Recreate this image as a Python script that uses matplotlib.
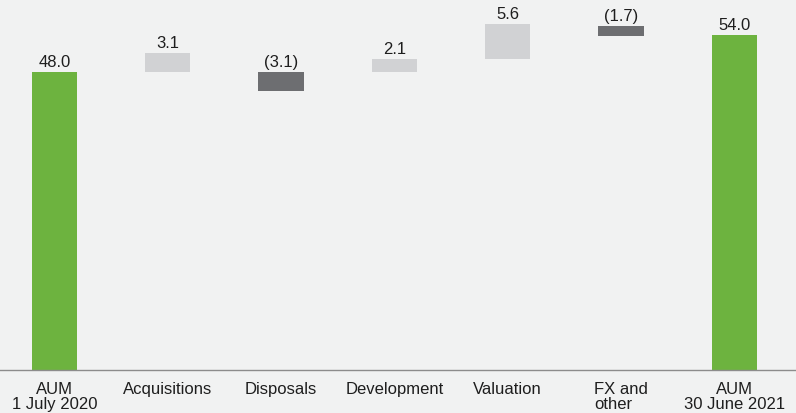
import matplotlib.pyplot as plt

plt.rcParams['font.family'] = ['Liberation Sans', 'DejaVu Sans']

# AUM bridge, GBP bn
categories = ['AUM\n1 July 2020', 'Acquisitions', 'Disposals', 'Development',
              'Valuation', 'FX and\nother', 'AUM\n30 June 2021']
changes = [48.0, 3.1, -3.1, 2.1, 5.6, -1.7, 54.0]
# level each bar is drawn from
starts = [0.0, 48.0, 48.0, 48.0, 50.1, 55.5, 0.0]
kinds = ['total', 'up', 'down', 'up', 'up', 'down', 'total']

colours = {'total': '#6db33f', 'up': '#d1d2d4', 'down': '#6d6e71'}
bg = '#f1f2f2'
ink = '#1e1e1e'

fig = plt.figure(figsize=(7.96, 4.14), dpi=100, facecolor=bg)
ax = fig.add_axes([0, 43 / 414, 1, 371 / 414], facecolor=bg)

x = list(range(len(categories)))
bottoms = [min(s, s + c) for s, c in zip(starts, changes)]
heights = [abs(c) for c in changes]
ax.bar(x, heights, bottom=bottoms, width=0.4,
       color=[colours[k] for k in kinds], zorder=2)

for xi, b, h, c in zip(x, bottoms, heights, changes):
    txt = f'({abs(c):.1f})' if c < 0 else f'{c:.1f}'
    ax.text(xi, b + h + 0.5, txt, ha='center', va='bottom',
            fontsize=12, color=ink)

ax.set_xlim(-0.481, 6.545)
ax.set_ylim(0, 59.8)
ax.set_yticks([])
ax.set_xticks(x)
ax.set_xticklabels(categories, fontsize=12, color=ink, linespacing=1.02)
ax.get_xticklabels()[5].set_multialignment('left')
ax.tick_params(axis='x', length=0, pad=8)
for side in ['top', 'left', 'right']:
    ax.spines[side].set_visible(False)
ax.spines['bottom'].set_color('#8c8c8c')
ax.spines['bottom'].set_linewidth(1.0)

fig.savefig('out.png', dpi=100, facecolor=bg)
